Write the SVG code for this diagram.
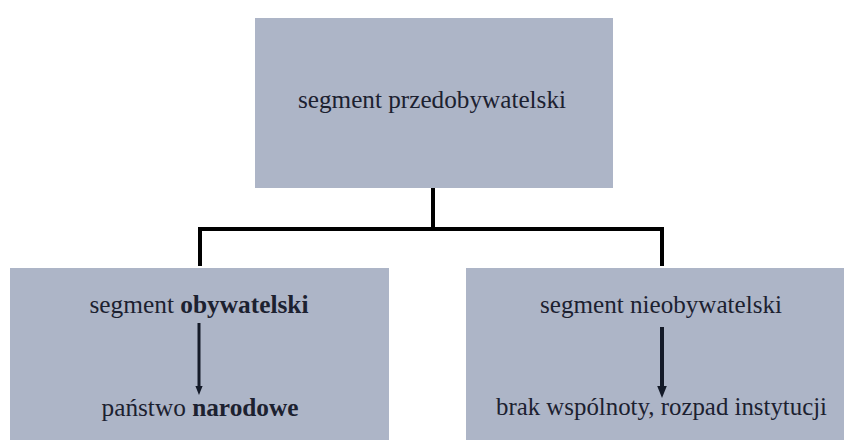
<svg xmlns="http://www.w3.org/2000/svg" width="844" height="440" viewBox="0 0 844 440">
<style>
.box{fill:#adb5c7}
.t{font-family:"Liberation Serif","DejaVu Serif",serif;font-size:25px;fill:#1c2130;text-anchor:middle}
.b{font-weight:bold}
.conn{stroke:#000;stroke-width:4;fill:none}
.arr{stroke:#141a28;stroke-width:3;fill:none;marker-end:url(#ah)}
</style>
<defs>
<marker id="ah" markerWidth="3" markerHeight="3" refX="1" refY="1.5" orient="auto" markerUnits="strokeWidth">
<path d="M0,0.3 L3,1.5 L0,2.7 Z" fill="#141a28"/>
</marker>
</defs>
<rect width="844" height="440" fill="#ffffff"/>
<g id="connectors">
<path class="conn" d="M433,188 V229 M200,229 H664 M200,227 V266 M662,227 V266"/>
</g>
<g id="top">
<rect class="box" x="255" y="18" width="358" height="170"/>
<text class="t" x="432" y="108" textLength="268" lengthAdjust="spacingAndGlyphs">segment przedobywatelski</text>
</g>
<g id="left">
<rect class="box" x="10" y="268" width="379" height="172"/>
<text class="t" x="199" y="313" textLength="219" lengthAdjust="spacingAndGlyphs">segment <tspan class="b">obywatelski</tspan></text>
<line class="arr" x1="199" y1="323" x2="199" y2="389"/>
<text class="t" x="200" y="416" textLength="197" lengthAdjust="spacingAndGlyphs">państwo <tspan class="b">narodowe</tspan></text>
</g>
<g id="right">
<rect class="box" x="466" y="268" width="378" height="172"/>
<text class="t" x="661" y="313" textLength="242" lengthAdjust="spacingAndGlyphs">segment nieobywatelski</text>
<line class="arr" x1="662" y1="327" x2="662" y2="390" style="stroke-width:4"/>
<text class="t" x="661.5" y="415" textLength="331" lengthAdjust="spacingAndGlyphs">brak wspólnoty, rozpad instytucji</text>
</g>
</svg>
